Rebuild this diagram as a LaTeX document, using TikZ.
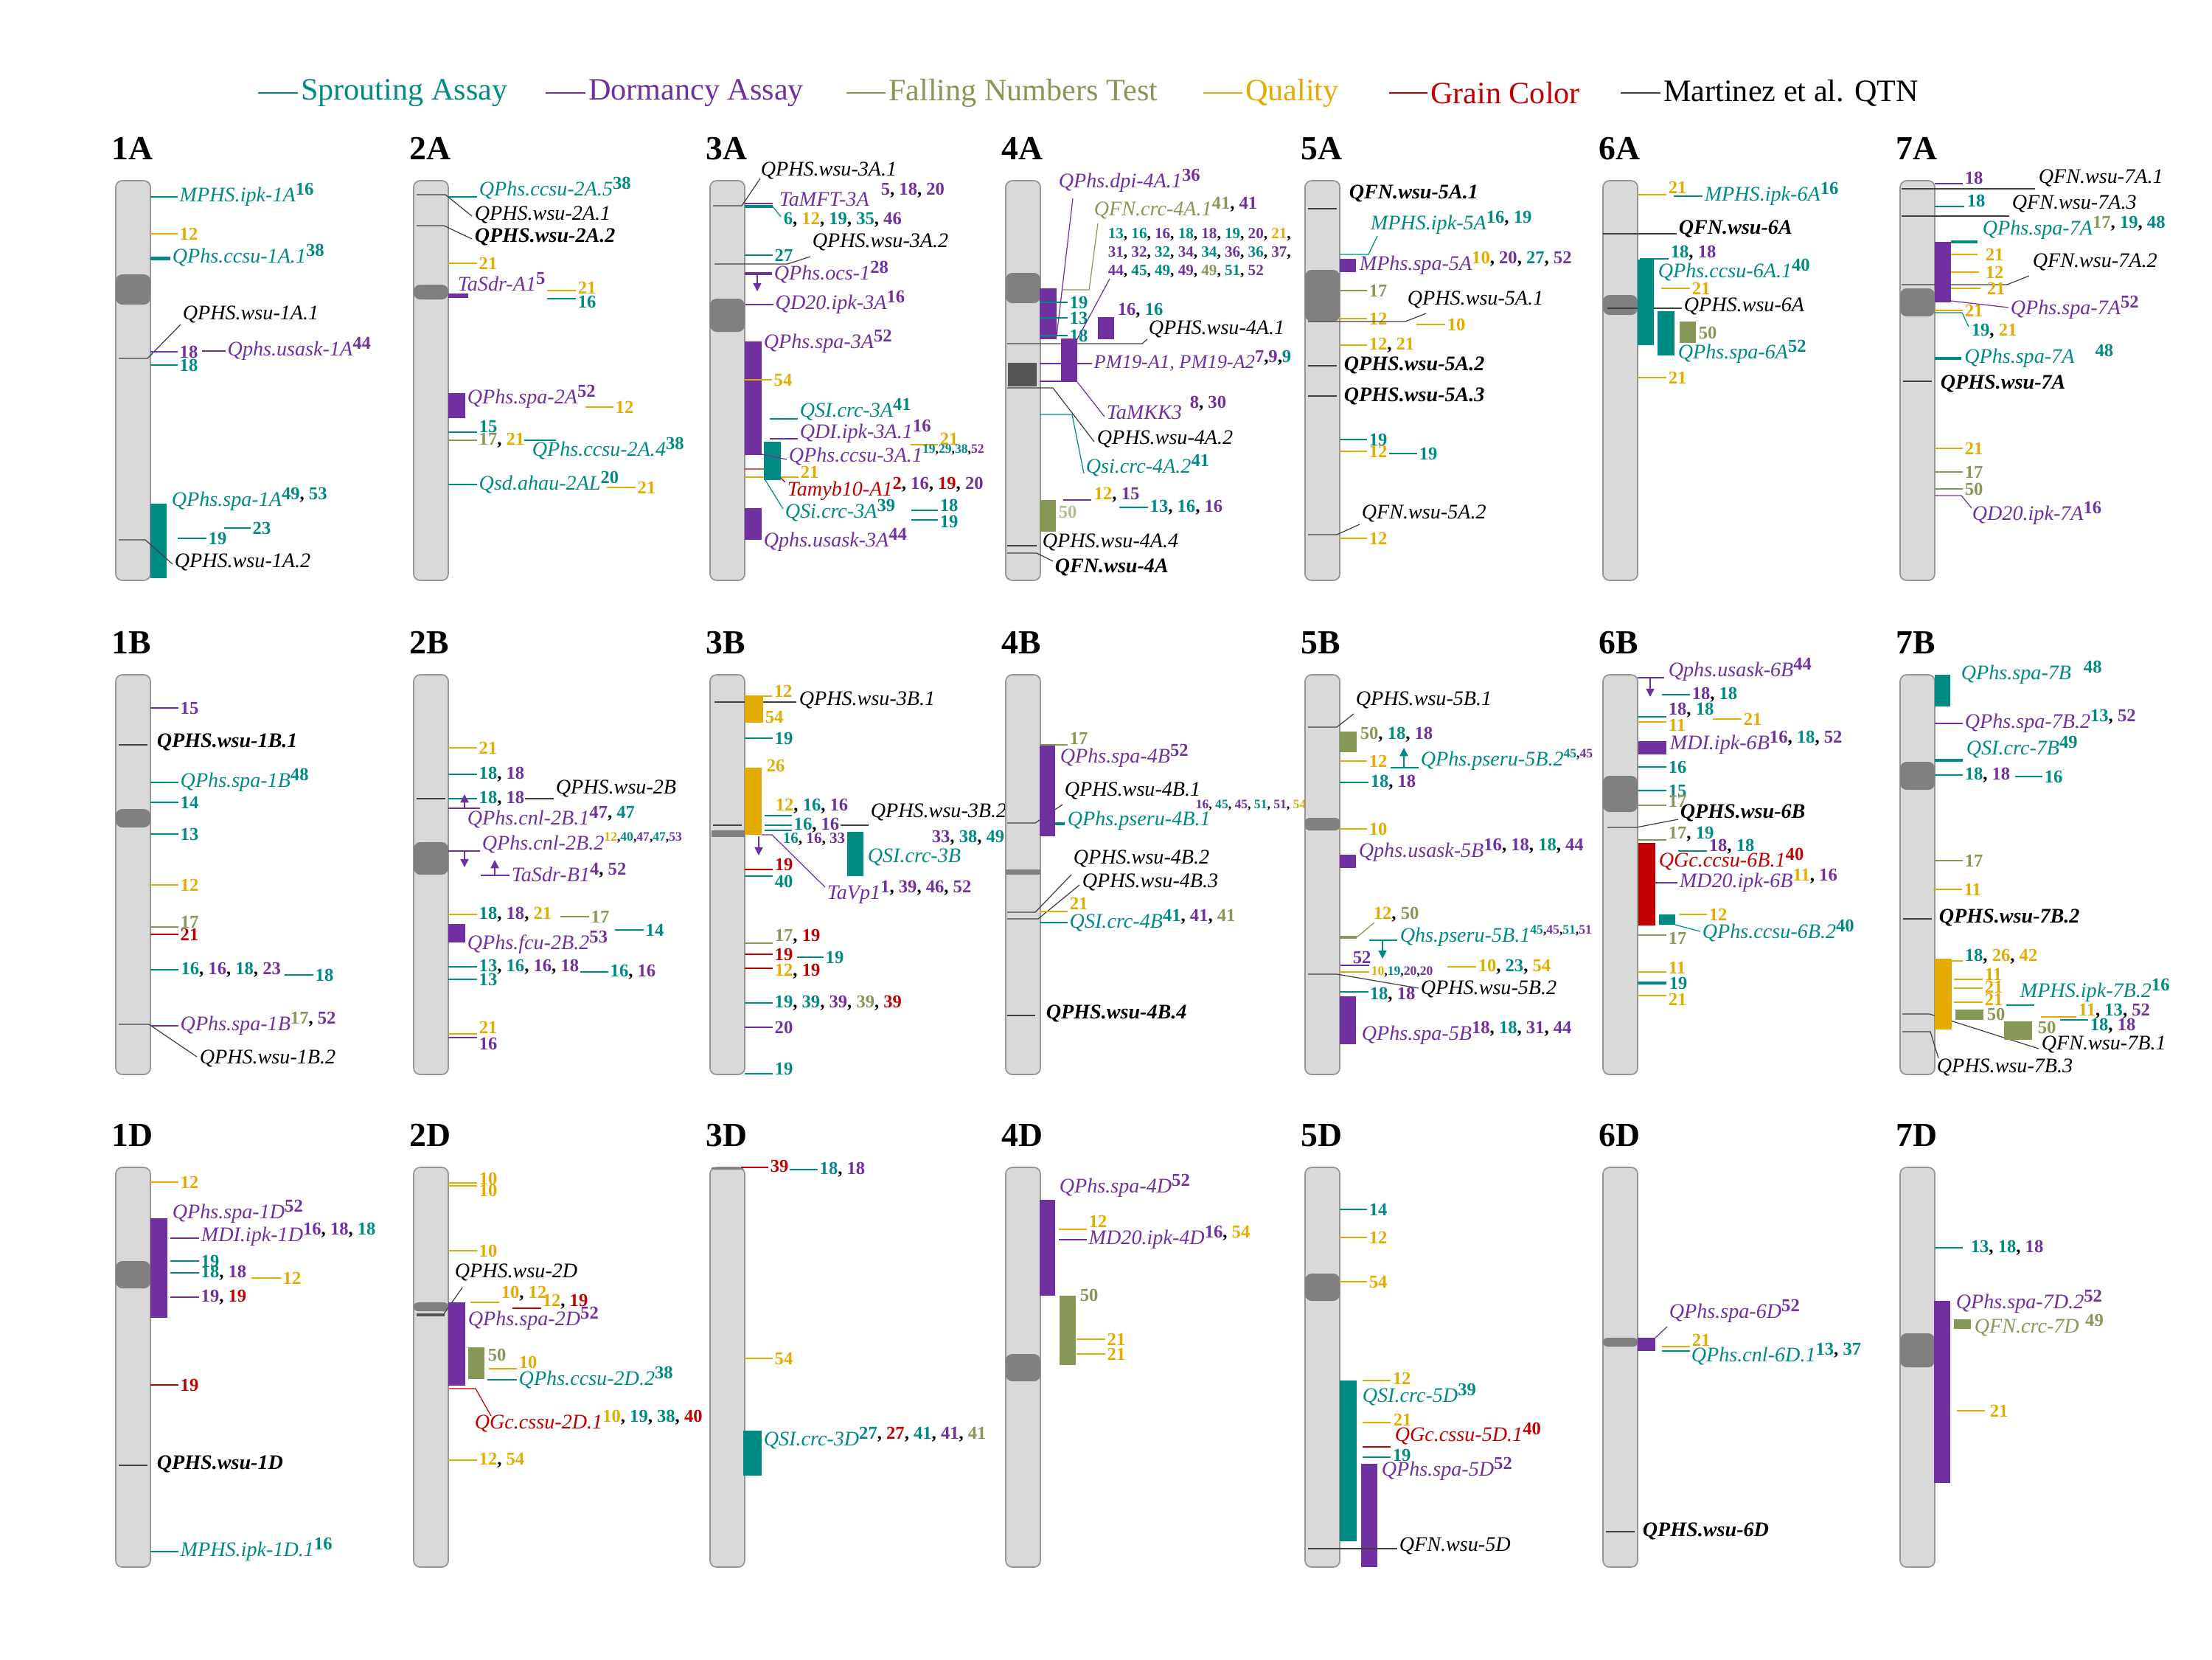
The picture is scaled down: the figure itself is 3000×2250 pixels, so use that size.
\documentclass[tikz,border=0pt]{standalone}
\usepackage{fontspec}
\setmainfont{Liberation Serif}
\usetikzlibrary{arrows.meta}
\definecolor{cSp}{RGB}{0,138,132}
\definecolor{cDm}{RGB}{112,48,160}
\definecolor{cFn}{RGB}{134,152,86}
\definecolor{cQl}{RGB}{228,172,0}
\definecolor{cGc}{RGB}{192,0,0}
\definecolor{cChr}{RGB}{217,217,217}
\definecolor{cBrd}{RGB}{150,150,150}
\definecolor{cCen}{RGB}{128,128,128}
\definecolor{cDark}{RGB}{85,85,85}
\newcommand\nT[1]{\textcolor{cSp}{#1}}
\newcommand\nD[1]{\textcolor{cDm}{#1}}
\newcommand\nF[1]{\textcolor{cFn}{#1}}
\newcommand\nQ[1]{\textcolor{cQl}{#1}}
\newcommand\nG[1]{\textcolor{cGc}{#1}}
\newcommand\supr[1]{\smash{\raisebox{0.7ex}{\fontsize{7}{8}\selectfont\bfseries\upshape #1}}}
\newcommand\supx[1]{\smash{\raisebox{0.9ex}{\fontsize{5}{6}\selectfont\bfseries\upshape #1}}}
\newcommand\chrom[1]{\node[ttl] at (-6,-29) {#1};
  \draw[chr] (0,0) rectangle (47,542);}
\tikzset{
  chr/.style={draw=cBrd, fill=cChr, rounded corners=2.5pt, line width=0.5pt},
  cen/.style={fill=cCen, rounded corners=2.5pt},
  sp/.style={draw=cSp, line width=0.35pt},
  dm/.style={draw=cDm, line width=0.35pt},
  fn/.style={draw=cFn, line width=0.35pt},
  ql/.style={draw=cQl, line width=0.35pt},
  gc/.style={draw=cGc, line width=0.35pt},
  qtn/.style={draw=black!75, line width=0.35pt},
  arr/.style={-{Triangle[width=3.2pt,length=3.2pt]}, line width=0.4pt},
  lab/.style={anchor=west, inner sep=0.6pt, font=\fontsize{8}{9}\selectfont\itshape},
  blab/.style={anchor=west, inner sep=0.6pt, font=\fontsize{8}{9}\selectfont\bfseries\itshape},
  num/.style={anchor=west, inner sep=0.6pt, font=\fontsize{7}{8}\selectfont\bfseries},
  nums/.style={anchor=west, inner sep=0.6pt, font=\fontsize{6}{7}\selectfont\bfseries},
  numx/.style={anchor=west, inner sep=0.6pt, font=\fontsize{5}{6}\selectfont\bfseries},
  ttl/.style={anchor=base west, inner sep=0pt, font=\fontsize{13}{14}\selectfont\bfseries},
  leg/.style={anchor=west, inner sep=1pt, font=\fontsize{12}{14}\selectfont}
}
\begin{document}
\begin{tikzpicture}[x=0.01cm,y=-0.01cm]
\useasboundingbox (0,0) rectangle (3000,2250);

\draw[sp] (350,126) -- (404,126) node[leg]{\nT{Sprouting Assay}};
\draw[dm] (740,126) -- (794,126) node[leg]{\nD{Dormancy Assay}};
\draw[fn] (1148,126) -- (1201,126) node[leg]{\nF{Falling Numbers Test}};
\draw[ql] (1632,126) -- (1685,126) node[leg]{\nQ{Quality}};
\draw[gc] (1884,126) -- (1936,126) node[leg]{\nG{Grain Color}};
\draw[qtn] (2198,126) -- (2252,126) node[leg]{Martinez et al. QTN};

\begin{scope}[shift={(157,245)}]
\chrom{1A}
\fill[cen] (0,127) rectangle (47,168);
\draw[sp] (47,22) -- (84,22) node[lab]{\nT{MPHS.ipk-1A}\supr{\nT{16}}};
\draw[ql] (47,72) -- (84,72) node[num]{\nQ{12}};
\fill[cSp] (47,103) rectangle (74,108);
\node[lab] at (74,104) {\nT{QPhs.ccsu-1A.1}\supr{\nT{38}}};
\draw[qtn] (4,241) -- (43,241) -- (88,195);
\node[lab] at (88,181) {QPHS.wsu-1A.1};
\draw[dm] (47,232) -- (84,232) node[num]{\nD{18}};
\draw[dm] (117,231) -- (149,231) node[lab]{\nD{Qphs.usask-1A}\supr{\nD{44}}};
\draw[sp] (47,250) -- (84,250) node[num]{\nT{18}};
\fill[cSp] (47,438) rectangle (69,539);
\node[lab] at (73,435) {\nT{QPhs.spa-1A}\supr{\nT{49}, \nT{53}}};
\draw[sp] (84,485) -- (123,485) node[num]{\nT{19}};
\draw[sp] (147,471) -- (183,471) node[num]{\nT{23}};
\draw[qtn] (4,487) -- (40,487) -- (77,520);
\node[lab] at (77,517) {QPHS.wsu-1A.2};
\end{scope}

\begin{scope}[shift={(561,245)}]
\chrom{2A}
\fill[cen] (0,141) rectangle (47,161);
\draw[sp] (47,22) -- (86,22);
\node[lab] at (86,13) {\nT{QPhs.ccsu-2A.5}\supr{\nT{38}}};
\draw[qtn] (4,19) -- (43,19) -- (79,48);
\node[lab] at (80,46) {QPHS.wsu-2A.1};
\draw[qtn] (4,61) -- (41,61) -- (79,79);
\node[blab] at (80,76) {QPHS.wsu-2A.2};
\draw[ql] (47,112) -- (86,112) node[num]{\nQ{21}};
\fill[cDm] (47,153) rectangle (74,159);
\node[lab] at (57,140) {\nD{TaSdr-A1}\supr{\nD{5}}};
\draw[ql] (181,149) -- (220,149);
\node[num] at (220,145) {\nQ{21}};
\draw[sp] (181,160) -- (220,160);
\node[num] at (220,164) {\nT{16}};
\fill[cDm] (47,288) rectangle (70,322);
\node[lab] at (70,296) {\nD{QPhs.spa-2A}\supr{\nD{52}}};
\draw[ql] (233,307) -- (271,307) node[num]{\nQ{12}};
\draw[sp] (47,341) -- (86,341);
\node[num] at (86,333) {\nT{15}};
\draw[fn] (47,352) -- (86,352) node[num]{\nF{17}, \nQ{21}};
\draw[sp] (150,352) -- (193,352);
\node[lab] at (158,366) {\nT{QPhs.ccsu-2A.4}\supr{\nT{38}}};
\draw[sp] (47,412) -- (86,412) node[lab]{\nT{Qsd.ahau-2AL}\supr{\nT{20}}};
\draw[ql] (262,416) -- (301,416) node[num]{\nQ{21}};
\end{scope}

\begin{scope}[shift={(963,245)}]
\chrom{3A}
\fill[cen] (0,160) rectangle (47,205);
\draw[qtn] (4,34) -- (43,34) -- (68,-3);
\node[lab] at (66,-14) {QPHS.wsu-3A.1};
\draw[dm] (47,31) -- (85,31);
\draw[sp, line width=1.4pt] (47,35) -- (85,35);
\node[lab] at (91,25) {\nD{TaMFT-3A}};
\node[num] at (229,13) {\nD{5}, \nD{18}, \nD{20}};
\draw[sp] (85,35) -- (96,49);
\node[num] at (97,53) {\nT{6}, \nQ{12}, \nT{19}, \nT{35}, \nD{46}};
\draw[sp] (47,101) -- (85,101) node[num]{\nT{27}};
\draw[qtn] (6,113) -- (105,113) -- (136,103);
\node[lab] at (136,83) {QPHS.wsu-3A.2};
\draw[dm, line width=1.4pt] (47,126) -- (84,126);
\draw[arr, cDm] (64,126) -- (64,150);
\node[lab] at (84,127) {\nD{QPhs.ocs-1}\supr{\nD{28}}};
\draw[dm] (48,168) -- (86,168) node[lab]{\nD{QD20.ipk-3A}\supr{\nD{16}}};
\fill[cDm] (47,218) rectangle (70,372);
\node[lab] at (70,221) {\nD{QPhs.spa-3A}\supr{\nD{52}}};
\draw[ql] (47,270) -- (84,270) node[num]{\nQ{54}};
\draw[sp] (81,323) -- (119,323);
\node[lab] at (119,313) {\nT{QSI.crc-3A}\supr{\nT{41}}};
\draw[dm] (81,350) -- (119,350);
\node[lab] at (119,343) {\nD{QDI.ipk-3A.1}\supr{\nD{16}}};
\draw[ql] (272,358) -- (309,358);
\node[num] at (309,350) {\nQ{21}};
\draw[gc] (47,391) -- (84,391) -- (102,409);
\draw[ql] (47,402) -- (120,402);
\fill[cSp] (73,354) rectangle (96,406);
\draw[dm] (70,371) -- (104,378);
\node[lab] at (104,374) {\nD{QPhs.ccsu-3A.1}\supx{\nT{19},\nT{29},\nT{38},\nD{52}}};
\node[lab] at (102,421) {\nG{Tamyb10-A1}\supr{\nG{2}, \nD{16}, \nG{19}, \nD{20}}};
\node[num] at (120,395) {\nQ{21}};
\draw[sp] (75,406) -- (99,445);
\node[lab] at (99,450) {\nT{QSi.crc-3A}\supr{\nT{39}}};
\draw[sp] (273,447) -- (309,447);
\node[num] at (309,440) {\nT{18}};
\draw[sp] (273,460) -- (309,460);
\node[num] at (309,462) {\nT{19}};
\fill[cDm] (47,444) rectangle (70,487);
\node[lab] at (70,490) {\nD{Qphs.usask-3A}\supr{\nD{44}}};
\end{scope}

\begin{scope}[shift={(1364,245)}]
\chrom{4A}
\fill[cen] (0,125) rectangle (47,166);
\fill[cDark] (3,247) rectangle (42,279);
\draw[qtn] (2,221) -- (185,221) -- (192,215);
\node[lab] at (191,201) {QPHS.wsu-4A.1};
\fill[cDm] (46,146) rectangle (69,215);
\draw[sp] (46,165) -- (84,165) node[num]{\nT{19}};
\draw[sp] (46,186) -- (84,186) node[num]{\nT{13}};
\draw[sp] (46,210) -- (84,210) node[num]{\nT{18}};
\draw[dm] (91,24) -- (69,211);
\node[lab] at (69,3) {\nD{QPhs.dpi-4A.1}\supr{\nD{36}}};
\draw[fn] (77,148) -- (113,148) -- (125,58);
\node[lab] at (117,40) {\nF{QFN.crc-4A.1}\supr{\nF{41}, \nD{41}}};
\node[nums] at (136,73) {\nT{13}, \nT{16}, \nD{16}, \nT{18}, \nD{18}, \nT{19}, \nD{20}, \nQ{21},};
\node[nums] at (136,98) {\nD{31}, \nD{32}, \nT{32}, \nD{34}, \nT{34}, \nD{36}, \nT{36}, \nD{37},};
\node[nums] at (136,123) {\nD{44}, \nT{45}, \nT{49}, \nD{49}, \nF{49}, \nT{51}, \nD{52}};
\draw[dm] (141,133) -- (97,215);
\fill[cDm] (125,185) rectangle (147,215);
\node[num] at (149,176) {\nD{16}, \nT{16}};
\fill[cDm] (75,214) rectangle (97,273);
\draw[dm] (46,248) -- (75,248);
\draw[dm] (46,272) -- (75,272);
\draw[dm] (97,248) -- (117,248) node[lab, font=\fontsize{7.5}{9}\selectfont\itshape]{\nD{PM19-A1, PM19-A2}\supr{\nD{7},\nD{9},\nT{9}}};
\draw[dm] (97,273) -- (134,320);
\node[lab] at (134,314) {\nD{TaMKK3}};
\node[num] at (247,302) {\nD{8}, \nD{30}};
\draw[qtn] (2,281) -- (64,281) -- (120,354);
\node[lab] at (121,350) {QPHS.wsu-4A.2};
\draw[sp] (46,317) -- (90,317) -- (106,397);
\node[lab] at (106,389) {\nT{Qsi.crc-4A.2}\supr{\nT{41}}};
\fill[cFn] (46,433) rectangle (68,476);
\node[num] at (69,449) {\textcolor{cFn!65}{50}};
\draw[dm] (78,433) -- (116,433);
\node[num] at (117,426) {\nQ{12}, \nD{15}};
\draw[sp] (154,443) -- (193,443) node[num]{\nT{13}, \nT{16}, \nD{16}};
\draw[qtn] (2,495) -- (42,495);
\node[lab] at (47,490) {QPHS.wsu-4A.4};
\draw[qtn] (2,505) -- (42,505) -- (64,516);
\node[blab] at (64,524) {QFN.wsu-4A};
\end{scope}

\begin{scope}[shift={(1770,245)}]
\chrom{5A}
\fill[cen] (0,121) rectangle (47,191);
\draw[qtn] (4,38) -- (43,38);
\node[blab] at (57,17) {QFN.wsu-5A.1};
\draw[sp] (47,100) -- (86,100) -- (98,75);
\node[lab] at (86,60) {\nT{MPHS.ipk-5A}\supr{\nT{16}, \nT{19}}};
\fill[cDm] (47,106) rectangle (69,124);
\node[lab] at (71,115) {\nD{MPhs.spa-5A}\supr{\nQ{10}, \nD{20}, \nT{27}, \nD{52}}};
\draw[fn] (47,149) -- (84,149) node[num]{\nF{17}};
\draw[ql] (47,187) -- (84,187) node[num]{\nQ{12}};
\draw[qtn] (4,191) -- (136,191) -- (164,180);
\node[lab] at (136,161) {QPHS.wsu-5A.1};
\draw[ql] (151,195) -- (190,195) node[num]{\nQ{10}};
\draw[ql] (47,223) -- (84,223) node[num]{\nQ{12}, \nQ{21}};
\draw[qtn] (4,251) -- (43,251);
\node[blab] at (50,250) {QPHS.wsu-5A.2};
\draw[qtn] (4,292) -- (43,292);
\node[blab] at (50,292) {QPHS.wsu-5A.3};
\draw[sp] (47,351) -- (84,351) node[num]{\nT{19}};
\draw[ql] (47,367) -- (84,367) node[num]{\nQ{12}};
\draw[sp] (114,370) -- (152,370) node[num]{\nT{19}};
\draw[qtn] (4,480) -- (43,480) -- (74,466);
\node[lab] at (74,451) {QFN.wsu-5A.2};
\draw[ql] (47,485) -- (84,485) node[num]{\nQ{12}};
\end{scope}

\begin{scope}[shift={(2174,245)}]
\chrom{6A}
\fill[cen] (0,155) rectangle (47,182);
\draw[ql] (47,19) -- (86,19);
\node[num] at (86,9) {\nQ{21}};
\draw[sp] (96,21) -- (135,21) node[lab]{\nT{MPHS.ipk-6A}\supr{\nT{16}}};
\draw[qtn] (0,72) -- (100,72);
\node[blab] at (100,65) {QFN.wsu-6A};
\draw[sp] (50,106) -- (89,106);
\node[num] at (89,98) {\nT{18}, \nD{18}};
\draw[qtn] (6,173) -- (107,173);
\node[lab] at (107,170) {QPHS.wsu-6A};
\fill[cSp] (47,107) rectangle (69,223);
\node[lab] at (72,124) {\nT{QPhs.ccsu-6A.1}\supr{\nT{40}}};
\draw[ql] (79,146) -- (118,146) node[num]{\nQ{21}};
\fill[cSp] (74,177) rectangle (97,237);
\fill[cFn] (104,191) rectangle (126,220);
\node[num] at (127,206) {\nF{50}};
\node[lab] at (99,235) {\nT{QPhs.spa-6A}\supr{\nT{52}}};
\draw[ql] (47,267) -- (86,267) node[num]{\nQ{21}};
\end{scope}

\begin{scope}[shift={(2577,245)}]
\chrom{7A}
\fill[cen] (0,146) rectangle (47,184);
\draw[dm] (47,4) -- (85,4);
\node[num] at (85,-4) {\nD{18}};
\draw[qtn] (2,11) -- (183,11);
\node[lab] at (185,-4) {QFN.wsu-7A.1};
\draw[sp] (47,35) -- (87,35);
\node[num] at (88,27) {\nT{18}};
\draw[qtn] (2,48) -- (148,48);
\node[lab] at (149,31) {QFN.wsu-7A.3};
\node[lab] at (109,67) {\nT{QPhs.spa-7A}\supr{\nF{17}, \nT{19}, \nT{48}}};
\draw[qtn] (2,141) -- (145,141) -- (175,129);
\fill[cDm] (47,83) rectangle (69,165);
\draw[sp, line width=1.2pt] (69,83) -- (105,83);
\draw[ql] (69,100) -- (105,100);
\node[num] at (113,100) {\nQ{21}};
\draw[ql] (69,124) -- (107,124);
\node[num] at (113,124) {\nQ{12}};
\draw[ql] (69,146) -- (109,146);
\node[num] at (115,146) {\nQ{21}};
\node[lab] at (177,110) {QFN.wsu-7A.2};
\draw[dm] (69,163) -- (147,172);
\node[lab] at (147,175) {\nD{QPhs.spa-7A}\supr{\nD{52}}};
\draw[ql] (47,176) -- (85,176) node[num]{\nQ{21}};
\draw[sp] (47,179) -- (84,179) -- (93,198);
\node[num] at (94,204) {\nT{19}, \nQ{21}};
\draw[sp, line width=1.2pt] (47,241) -- (83,241) node[lab]{\nT{QPhs.spa-7A}\hspace{1em}\supr{\nT{48}}};
\draw[qtn] (4,272) -- (43,272);
\node[blab] at (52,275) {QPHS.wsu-7A};
\draw[ql] (47,363) -- (85,363) node[num]{\nQ{21}};
\draw[fn] (47,395) -- (85,395) node[num]{\nF{17}};
\draw[fn] (47,418) -- (85,418) node[num]{\nF{50}};
\draw[dm] (47,427) -- (83,427) -- (97,444);
\node[lab] at (95,454) {\nD{QD20.ipk-7A}\supr{\nD{16}}};
\end{scope}

\begin{scope}[shift={(157,915)}]
\chrom{1B}
\fill[cen] (0,182) rectangle (47,207);
\draw[dm] (47,45) -- (85,45) node[num]{\nD{15}};
\draw[qtn] (4,95) -- (43,95);
\node[blab] at (53,91) {QPHS.wsu-1B.1};
\draw[sp] (47,146) -- (85,146) node[lab]{\nT{QPhs.spa-1B}\supr{\nT{48}}};
\draw[sp] (47,173) -- (85,173) node[num]{\nT{14}};
\draw[sp] (47,216) -- (85,216) node[num]{\nT{13}};
\draw[ql] (47,285) -- (85,285) node[num]{\nQ{12}};
\draw[fn] (47,342) -- (85,342);
\node[num] at (85,335) {\nF{17}};
\draw[gc] (47,352) -- (85,352) node[num]{\nG{21}};
\draw[sp, line width=0.8pt] (47,400) -- (85,400) node[num]{\nT{16}, \nD{16}, \nT{18}, \nD{23}};
\draw[sp] (229,407) -- (268,407) node[num]{\nT{18}};
\draw[qtn] (4,474) -- (45,474) -- (110,518);
\draw[dm] (47,476) -- (85,476) node[lab]{\nD{QPhs.spa-1B}\supr{\nF{17}, \nD{52}}};
\node[lab] at (111,520) {QPHS.wsu-1B.2};
\end{scope}

\begin{scope}[shift={(561,915)}]
\chrom{2B}
\fill[cen] (0,227) rectangle (47,271);
\draw[ql] (47,99) -- (86,99) node[num]{\nQ{21}};
\draw[sp] (47,135) -- (86,135) node[num]{\nT{18}, \nD{18}};
\draw[qtn] (4,168) -- (43,168);
\draw[sp] (47,168) -- (86,168) node[num]{\nT{18}, \nD{18}};
\draw[qtn] (151,168) -- (190,168);
\node[lab] at (190,154) {QPHS.wsu-2B};
\draw[dm] (47,181) -- (90,181);
\draw[arr, cDm] (69,181) -- (69,162);
\node[lab] at (70,196) {\nD{QPhs.cnl-2B.1}\supr{\nD{47}, \nT{47}}};
\draw[dm] (47,239) -- (90,239);
\draw[arr, cDm] (69,239) -- (69,261);
\node[lab] at (90,230) {\nD{QPhs.cnl-2B.2}\supx{\nQ{12},\nT{40},\nD{47},\nT{47},\nD{53}}};
\draw[dm] (91,272) -- (130,272);
\draw[arr, cDm] (110,272) -- (110,251);
\node[lab] at (130,271) {\nD{TaSdr-B1}\supr{\nD{4}, \nD{52}}};
\draw[ql] (47,325) -- (86,325) node[num]{\nT{18}, \nD{18}, \nQ{21}};
\draw[fn] (199,328) -- (238,328) node[num]{\nF{17}};
\fill[cDm] (47,338) rectangle (70,363);
\node[lab] at (70,366) {\nD{QPhs.fcu-2B.2}\supr{\nD{53}}};
\draw[sp] (273,346) -- (312,346) node[num]{\nT{14}};
\draw[sp] (47,396) -- (86,396) node[num]{\nT{13}, \nT{16}, \nD{16}, \nD{18}};
\draw[sp] (226,403) -- (264,403) node[num]{\nT{16}, \nD{16}};
\draw[sp] (47,413) -- (86,413) node[num]{\nT{13}};
\draw[ql] (47,487) -- (86,487);
\node[num] at (86,478) {\nQ{21}};
\draw[dm] (47,492) -- (86,492);
\node[num] at (86,500) {\nD{16}};
\end{scope}

\begin{scope}[shift={(963,915)}]
\chrom{3B}
\fill[cen, rounded corners=0pt] (2,211) rectangle (47,220);
\draw[qtn] (6,37) -- (117,37);
\node[lab] at (118,34) {QPHS.wsu-3B.1};
\fill[cQl] (47,28) rectangle (72,65);
\draw[ql] (72,29) -- (84,29);
\node[num] at (84,22) {\nQ{12}};
\node[num] at (72,57) {\nQ{54}};
\draw[sp] (47,86) -- (85,86) node[num]{\nT{19}};
\draw[qtn] (4,204) -- (43,204);
\fill[cQl] (47,126) rectangle (70,217);
\node[num] at (74,123) {\nQ{26}};
\draw[sp] (74,191) -- (111,191);
\node[num] at (86,178) {\nQ{12}, \nT{16}, \nD{16}};
\draw[sp] (74,204) -- (111,204) node[num]{\nT{16}, \nD{16}};
\draw[qtn] (177,204) -- (215,204);
\node[lab] at (215,186) {QPHS.wsu-3B.2};
\draw[sp] (74,211) -- (111,211);
\node[nums] at (96,223) {\nT{16}, \nD{16}, \nD{33}};
\fill[cSp] (186,213) rectangle (208,273);
\node[lab] at (211,247) {\nT{QSI.crc-3B}};
\node[num] at (298,221) {\nD{33}, \nT{38}, \nT{49}};
\draw[arr, cDm] (66,219) -- (66,245);
\draw[dm] (70,217) -- (84,217) -- (156,288);
\node[lab] at (156,298) {\nD{TaVp1}\supr{\nD{1}, \nD{39}, \nD{46}, \nD{52}}};
\draw[gc] (47,264) -- (85,264);
\node[num] at (85,257) {\nG{19}};
\draw[sp] (47,273) -- (85,273);
\node[num] at (85,280) {\nT{40}};
\draw[fn] (47,364) -- (85,364);
\node[num] at (85,355) {\nF{17}, \nG{19}};
\draw[gc] (47,379) -- (85,379) node[num]{\nG{19}};
\draw[sp] (118,383) -- (154,383) node[num]{\nT{19}};
\draw[gc] (47,398) -- (85,398);
\node[num] at (85,402) {\nQ{12}, \nG{19}};
\draw[sp] (47,445) -- (85,445) node[num]{\nT{19}, \nT{39}, \nD{39}, \nF{39}, \nG{39}};
\draw[dm] (47,478) -- (85,478) node[num]{\nD{20}};
\draw[sp] (47,541) -- (85,541);
\node[num] at (85,534) {\nT{19}};
\end{scope}

\begin{scope}[shift={(1364,915)}]
\chrom{4B}
\fill[cen, rounded corners=0pt] (0,264) rectangle (47,271);
\draw[fn] (46,95) -- (84,95);
\node[num] at (84,86) {\nF{17}};
\draw[qtn] (2,201) -- (40,201) -- (77,176);
\fill[cDm] (46,96) rectangle (67,219);
\node[lab] at (71,113) {\nD{QPhs.spa-4B}\supr{\nD{52}}};
\node[lab] at (77,157) {QPHS.wsu-4B.1};
\draw[sp, line width=1.2pt] (67,202) -- (80,202);
\node[lab] at (81,198) {\nT{QPhs.pseru-4B.1}};
\node[numx] at (255,177) {\nD{16}, \nT{45}, \nD{45}, \nT{51}, \nD{51}, \nQ{54}};
\draw[qtn] (2,322) -- (40,322) -- (89,271);
\node[lab] at (89,249) {QPHS.wsu-4B.2};
\draw[qtn] (2,331) -- (44,331) -- (100,285);
\node[lab] at (101,281) {QPHS.wsu-4B.3};
\draw[ql] (46,321) -- (84,321);
\node[num] at (84,310) {\nQ{21}};
\draw[sp] (46,336) -- (84,336) node[lab]{\nT{QSI.crc-4B}\supr{\nT{41}, \nD{41}, \nF{41}}};
\draw[qtn] (2,462) -- (40,462);
\node[blab] at (52,459) {QPHS.wsu-4B.4};
\end{scope}

\begin{scope}[shift={(1770,915)}]
\chrom{5B}
\fill[cen, rounded corners=1.5pt] (0,194) rectangle (47,211);
\draw[qtn] (4,71) -- (43,71) -- (66,53);
\node[lab] at (66,34) {QPHS.wsu-5B.1};
\fill[cFn] (47,77) rectangle (70,105);
\node[num] at (72,81) {\nF{50}, \nT{18}, \nD{18}};
\draw[ql] (47,117) -- (84,117) node[num]{\nQ{12}};
\draw[sp] (116,126) -- (154,126);
\draw[arr, cSp] (134,126) -- (134,99);
\node[lab] at (154,117) {\nT{QPhs.pseru-5B.2}\supx{\nT{45},\nD{45}}};
\draw[sp] (47,146) -- (86,146) node[num]{\nT{18}, \nD{18}};
\draw[ql] (47,209) -- (84,209) node[num]{\nQ{10}};
\fill[cDm] (47,244) rectangle (69,262);
\node[lab] at (70,241) {\nD{Qphs.usask-5B}\supr{\nD{16}, \nD{18}, \nT{18}, \nD{44}}};
\fill[cFn] (47,354) rectangle (70,358);
\draw[fn] (70,356) -- (94,336);
\node[num] at (90,325) {\nQ{12}, \nF{50}};
\draw[sp] (87,360) -- (125,360);
\draw[arr, cSp] (105,360) -- (105,385);
\node[lab] at (126,356) {\nT{Qhs.pseru-5B.1}\supx{\nT{45},\nD{45},\nT{51},\nD{51}}};
\draw[dm] (48,394) -- (87,394);
\node[num] at (62,383) {\nD{52}};
\draw[ql] (47,403) -- (87,403);
\node[numx] at (87,403) {\nQ{10},\nT{19},\nD{20},\nD{20}};
\draw[ql] (193,396) -- (232,396) node[num]{\nQ{10}, \nT{23}, \nQ{54}};
\draw[qtn] (4,406) -- (43,406) -- (154,425);
\node[lab] at (154,426) {QPHS.wsu-5B.2};
\draw[sp] (47,430) -- (86,430);
\node[num] at (85,434) {\nT{18}, \nD{18}};
\fill[cDm] (47,436) rectangle (69,501);
\node[lab] at (74,489) {\nD{QPhs.spa-5B}\supr{\nD{18}, \nT{18}, \nD{31}, \nD{44}}};
\end{scope}

\begin{scope}[shift={(2174,915)}]
\chrom{6B}
\fill[cen] (0,137) rectangle (47,186);
\draw[dm] (47,4) -- (83,4);
\draw[arr, cDm] (64,4) -- (64,30);
\node[lab] at (86,-4) {\nD{Qphs.usask-6B}\supr{\nD{44}}};
\draw[sp] (80,27) -- (118,27) node[num]{\nD{18}, \nT{18}};
\draw[sp] (47,57) -- (86,57);
\node[num] at (86,48) {\nD{18}, \nT{18}};
\draw[ql] (149,60) -- (188,60) node[num]{\nQ{21}};
\draw[ql] (47,64) -- (86,64);
\node[num] at (86,68) {\nQ{11}};
\fill[cDm] (48,90) rectangle (86,108);
\node[lab] at (88,95) {\nD{MDI.ipk-6B}\supr{\nD{16}, \nT{18}, \nD{52}}};
\draw[sp] (47,125) -- (86,125) node[num]{\nT{16}};
\draw[sp] (47,157) -- (86,157) node[num]{\nT{15}};
\draw[fn] (47,177) -- (86,177);
\node[num] at (86,171) {\nF{17}};
\draw[qtn] (6,207) -- (45,207) -- (102,196);
\node[blab] at (102,187) {QPHS.wsu-6B};
\draw[fn] (47,224) -- (86,224);
\node[num] at (86,216) {\nF{17}, \nT{19}};
\fill[cGc] (48,228) rectangle (71,340);
\draw[sp] (102,239) -- (141,239);
\node[num] at (141,233) {\nD{18}, \nT{18}};
\node[lab] at (73,253) {\nG{QGc.ccsu-6B.1}\supr{\nG{40}}};
\draw[dm] (71,282) -- (101,282) node[lab]{\nD{MD20.ipk-6B}\supr{\nQ{11}, \nD{16}}};
\fill[cSp] (76,325) rectangle (98,339);
\draw[ql] (104,325) -- (141,325) node[num]{\nQ{12}};
\draw[sp] (98,339) -- (132,348);
\node[lab] at (132,350) {\nT{QPhs.ccsu-6B.2}\supr{\nT{40}}};
\draw[fn] (47,353) -- (86,353);
\node[num] at (86,357) {\nF{17}};
\draw[ql] (47,403) -- (86,403);
\node[num] at (86,397) {\nQ{11}};
\draw[sp, line width=1pt] (47,418) -- (86,418) node[num]{\nT{19}};
\draw[ql] (47,435) -- (86,435);
\node[num] at (86,440) {\nQ{21}};
\end{scope}

\begin{scope}[shift={(2577,915)}]
\chrom{7B}
\fill[cen] (0,118) rectangle (47,156);
\fill[cSp] (47,0) rectangle (68,43);
\node[lab] at (80,0) {\nT{QPhs.spa-7B}\hspace{0.6em}\supr{\nT{48}}};
\draw[dm] (47,66) -- (85,66) node[lab]{\nD{QPhs.spa-7B.2}\supr{\nT{13}, \nD{52}}};
\draw[sp, line width=1.2pt] (47,116) -- (85,116);
\node[lab] at (87,101) {\nT{QSI.crc-7B}\supr{\nT{49}}};
\draw[sp] (47,136) -- (85,136) node[num]{\nT{18}, \nD{18}};
\draw[sp] (156,138) -- (193,138) node[num]{\nT{16}};
\draw[fn] (47,252) -- (85,252) node[num]{\nF{17}};
\draw[ql] (45,291) -- (84,291) node[num]{\nQ{11}};
\draw[qtn] (4,331) -- (43,331);
\node[blab] at (50,329) {QPHS.wsu-7B.2};
\draw[qtn] (3,460) -- (40,460) -- (188,507);
\draw[qtn] (3,484) -- (41,484) -- (52,520);
\fill[cQl] (47,385) rectangle (70,481);
\draw[ql] (70,388) -- (85,388);
\node[num] at (85,382) {\nT{18}, \nQ{26}, \nQ{42}};
\draw[ql] (73,413) -- (112,413);
\node[num] at (112,406) {\nQ{11}};
\draw[ql] (73,425) -- (112,425);
\node[num] at (112,423) {\nQ{21}};
\draw[ql] (73,444) -- (112,444);
\node[num] at (112,440) {\nQ{21}};
\fill[cFn] (75,454) rectangle (113,468);
\node[num] at (115,460) {\nF{50}};
\node[lab] at (160,431) {\nT{MPHS.ipk-7B.2}\supr{\nT{16}}};
\draw[sp] (144,448) -- (182,448);
\draw[ql] (191,464) -- (239,464);
\node[num] at (239,456) {\nQ{11}, \nT{13}, \nD{52}};
\draw[sp] (217,468) -- (255,468);
\node[num] at (255,476) {\nT{18}, \nD{18}};
\fill[cFn] (141,470) rectangle (179,495);
\node[num] at (184,478) {\nF{50}};
\node[lab] at (189,501) {QFN.wsu-7B.1};
\node[lab] at (47,532) {QPHS.wsu-7B.3};
\end{scope}

\begin{scope}[shift={(157,1583)}]
\chrom{1D}
\fill[cen] (0,127) rectangle (47,164);
\draw[ql] (47,20) -- (85,20) node[num]{\nQ{12}};
\fill[cDm] (47,69) rectangle (70,204);
\node[lab] at (74,63) {\nD{QPhs.spa-1D}\supr{\nD{52}}};
\draw[dm] (74,96) -- (113,96);
\node[lab] at (113,94) {\nD{MDI.ipk-1D}\supr{\nD{16}, \nD{18}, \nT{18}}};
\draw[sp] (74,127) -- (113,127) node[num]{\nT{19}};
\draw[sp] (74,143) -- (113,143) node[num]{\nT{18}, \nD{18}};
\draw[ql] (184,150) -- (224,150) node[num]{\nQ{12}};
\draw[dm] (74,176) -- (113,176) node[num]{\nD{19}, \nG{19}};
\draw[gc] (47,295) -- (85,295) node[num]{\nG{19}};
\draw[qtn] (4,404) -- (43,404);
\node[blab] at (53,402) {QPHS.wsu-1D};
\draw[sp] (47,521) -- (85,521) node[lab]{\nT{MPHS.ipk-1D.1}\supr{\nT{16}}};
\end{scope}

\begin{scope}[shift={(561,1583)}]
\chrom{2D}
\fill[cen, rounded corners=1.5pt] (0,183) rectangle (47,195);
\fill[cDark] (4,198) rectangle (42,202);
\draw[ql] (47,21) -- (86,21);
\node[num] at (86,15) {\nQ{10}};
\draw[ql] (47,25) -- (86,25);
\node[num] at (86,31) {\nQ{10}};
\draw[ql] (47,113) -- (86,113) node[num]{\nQ{10}};
\draw[qtn] (40,200) -- (66,163);
\node[lab] at (53,142) {QPHS.wsu-2D};
\draw[ql] (77,183) -- (116,183);
\node[num] at (116,171) {\nQ{10}, \nQ{12}};
\draw[gc] (134,191) -- (173,191);
\node[num] at (172,182) {\nQ{12}, \nG{19}};
\fill[cDm] (47,183) rectangle (70,296);
\node[lab] at (71,208) {\nD{QPhs.spa-2D}\supr{\nD{52}}};
\fill[cFn] (74,244) rectangle (96,287);
\node[num] at (98,254) {\nF{50}};
\draw[ql] (102,273) -- (140,273);
\node[num] at (140,264) {\nQ{10}};
\draw[sp] (100,288) -- (140,288) node[lab]{\nT{QPhs.ccsu-2D.2}\supr{\nT{38}}};
\draw[gc] (48,300) -- (84,300) -- (105,337);
\node[lab] at (80,347) {\nG{QGc.cssu-2D.1}\supr{\nQ{10}, \nT{19}, \nT{38}, \nG{40}}};
\draw[ql] (47,397) -- (86,397) node[num]{\nQ{12}, \nQ{54}};
\end{scope}

\begin{scope}[shift={(963,1583)}]
\chrom{3D}
\fill[cCen] (2,0) rectangle (45,3);
\draw[gc] (42,0) -- (79,0);
\node[num] at (79,-2) {\nG{39}};
\draw[sp] (108,3) -- (146,3) node[num]{\nT{18}, \nD{18}};
\draw[ql] (47,259) -- (85,259) node[num]{\nQ{54}};
\fill[cSp] (45,357) rectangle (70,418);
\node[lab] at (70,370) {\nT{QSI.crc-3D}\supr{\nT{27}, \nG{27}, \nT{41}, \nD{41}, \nF{41}}};
\end{scope}

\begin{scope}[shift={(1364,1583)}]
\chrom{4D}
\fill[cen] (0,253) rectangle (47,290);
\fill[cDm] (46,44) rectangle (67,174);
\node[lab] at (70,28) {\nD{QPhs.spa-4D}\supr{\nD{52}}};
\draw[ql] (72,84) -- (110,84);
\node[num] at (110,73) {\nQ{12}};
\draw[dm] (72,98) -- (110,98) node[lab]{\nD{MD20.ipk-4D}\supr{\nD{16}, \nQ{54}}};
\fill[cFn] (73,174) rectangle (95,268);
\node[num] at (98,173) {\nF{50}};
\draw[ql] (96,233) -- (135,233) node[num]{\nQ{21}};
\draw[ql] (96,253) -- (135,253) node[num]{\nQ{21}};
\end{scope}

\begin{scope}[shift={(1770,1583)}]
\chrom{5D}
\fill[cen] (0,144) rectangle (47,181);
\draw[sp] (47,57) -- (84,57) node[num]{\nT{14}};
\draw[ql] (47,95) -- (84,95) node[num]{\nQ{12}};
\draw[ql] (47,155) -- (84,155) node[num]{\nQ{54}};
\fill[cSp] (47,289) rectangle (70,507);
\draw[ql] (78,289) -- (116,289);
\node[num] at (116,286) {\nQ{12}};
\node[lab] at (75,311) {\nT{QSI.crc-5D}\supr{\nT{39}}};
\draw[ql] (78,346) -- (116,346);
\node[num] at (117,342) {\nQ{21}};
\draw[gc] (78,379) -- (116,379);
\node[lab] at (119,364) {\nG{QGc.cssu-5D.1}\supr{\nG{40}}};
\draw[sp] (78,393) -- (116,393);
\node[num] at (116,390) {\nT{19}};
\fill[cDm] (76,402) rectangle (98,542);
\node[lab] at (101,412) {\nD{QPhs.spa-5D}\supr{\nD{52}}};
\draw[qtn] (4,517) -- (125,517);
\node[lab] at (125,513) {QFN.wsu-5D};
\end{scope}

\begin{scope}[shift={(2174,1583)}]
\chrom{6D}
\fill[cen, rounded corners=1.5pt] (0,231) rectangle (47,243);
\fill[cDm] (47,231) rectangle (71,249);
\draw[dm] (71,231) -- (87,216);
\node[lab] at (87,198) {\nD{QPhs.spa-6D}\supr{\nD{52}}};
\draw[ql] (80,243) -- (118,243);
\node[num] at (118,234) {\nQ{21}};
\draw[sp] (80,249) -- (118,249);
\node[lab] at (117,256) {\nT{QPhs.cnl-6D.1}\supr{\nT{13}, \nT{37}}};
\draw[qtn] (4,494) -- (43,494);
\node[blab] at (51,493) {QPHS.wsu-6D};
\end{scope}

\begin{scope}[shift={(2577,1583)}]
\chrom{7D}
\fill[cen] (0,225) rectangle (47,271);
\draw[sp] (47,109) -- (85,109);
\node[num] at (93,109) {\nT{13}, \nT{18}, \nD{18}};
\fill[cDm] (46,181) rectangle (68,428);
\node[lab] at (73,185) {\nD{QPhs.spa-7D.2}\supr{\nD{52}}};
\fill[cFn] (73,206) rectangle (96,219);
\node[lab] at (98,217) {\nF{QFN.crc-7D}\hspace{0.3em}\supr{\nF{49}}};
\draw[ql] (77,330) -- (115,330);
\node[num] at (119,330) {\nQ{21}};
\end{scope}
\end{tikzpicture}
\end{document}
